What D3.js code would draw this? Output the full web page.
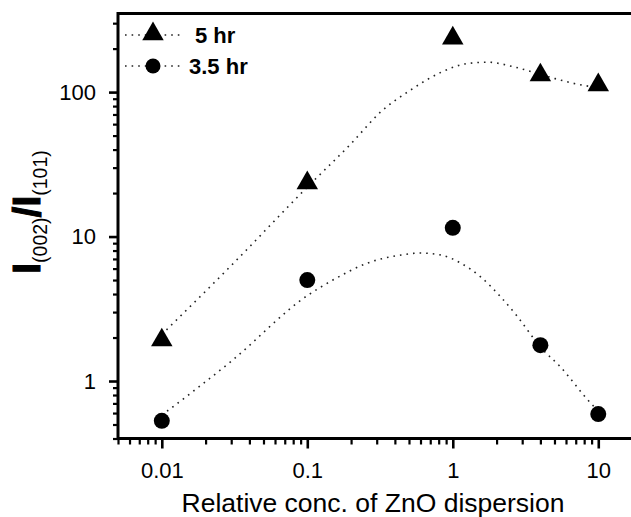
<!DOCTYPE html>
<html>
<head>
<meta charset="utf-8">
<script src="https://cdn.jsdelivr.net/npm/d3@7"></script>
<style>
  body { margin: 0; background: #fff; }
  text { font-family: "Liberation Sans", Arial, sans-serif; }
</style>
</head>
<body>
<script>
// chart size
var w = 631, h = 517;

// measured points
var conc = [0.01, 0.1, 1, 4, 10];
var ratio5 = [1.92, 23.5, 236, 131, 112];
var ratio35 = [0.53, 5.0, 11.5, 1.77, 0.59];

// dotted fit curves
var fit5X = [0.01, 0.03, 0.1, 0.2, 0.32, 0.51, 0.83, 1.27, 1.74, 2.6, 3.6, 4.9, 8.5, 10];
var fit5Y = [2.1, 6.3, 22, 44, 73, 103, 137, 158, 161, 150, 137, 125, 110, 108];
var fit35X = [0.01, 0.03, 0.1, 0.15, 0.26, 0.44, 0.6, 0.83, 1.13, 1.56, 2.14, 2.8, 4.0, 5.5, 8.9, 10];
var fit35Y = [0.58, 1.37, 3.9, 5.0, 6.56, 7.45, 7.69, 7.45, 6.56, 5.24, 3.81, 2.77, 1.72, 1.25, 0.70, 0.62];

var xMajor = [0.01, 0.1, 1, 10];
var xLabels = ["0.01", "0.1", "1", "10"];
var yMajor = [1, 10, 100];
var yLabels = ["1", "10", "100"];

var svg = d3.select("body").append("svg")
    .attr("width", w)
    .attr("height", h);

var x = d3.scaleLog().domain([0.005, 17]).range([118, 631.8]);
var y = d3.scaleLog().domain([0.4, 350]).range([438.5, 13.5]);

// minor ticks
var xMinor = x.ticks().filter(function(d){ return xMajor.indexOf(d) < 0; });
var yMinor = y.ticks().filter(function(d){ return yMajor.indexOf(d) < 0; });

var gx = svg.append("g").attr("transform", "translate(0," + y.range()[0] + ")");
gx.append("g").call(d3.axisBottom(x).tickValues(xMinor).tickSize(6).tickFormat(""))
    .call(function(g){ g.select(".domain").remove(); })
    .selectAll("line").attr("stroke-width", 2.2);
gx.append("g").call(d3.axisBottom(x).tickValues(xMajor).tickSize(10).tickPadding(14)
        .tickFormat(function(d, i){ return xLabels[i]; }))
    .call(function(g){ g.select(".domain").remove(); })
    .call(function(g){
        g.selectAll("line").attr("stroke-width", 2.6);
        g.selectAll("text").attr("font-size", 22).attr("fill", "#000")
            .attr("font-family", "Liberation Sans, Arial, sans-serif");
    });

var gy = svg.append("g").attr("transform", "translate(" + x.range()[0] + ",0)");
gy.append("g").call(d3.axisLeft(y).tickValues(yMinor).tickSize(5).tickFormat(""))
    .call(function(g){ g.select(".domain").remove(); })
    .selectAll("line").attr("stroke-width", 2.2);
gy.append("g").call(d3.axisLeft(y).tickValues(yMajor).tickSize(9).tickPadding(13)
        .tickFormat(function(d, i){ return yLabels[i]; }))
    .call(function(g){ g.select(".domain").remove(); })
    .call(function(g){
        g.selectAll("line").attr("stroke-width", 2.6);
        g.selectAll("text").attr("font-size", 22).attr("fill", "#000")
            .attr("font-family", "Liberation Sans, Arial, sans-serif");
    });

// frame: left, bottom, top
svg.append("path")
    .attr("d", "M" + w + "," + y.range()[1] + "H" + x.range()[0] + "V" + y.range()[0] + "H" + w)
    .attr("fill", "none")
    .attr("stroke", "#000")
    .attr("stroke-width", 3);

// fit curves
var line = d3.line()
    .x(function(d){ return x(d[0]); })
    .y(function(d){ return y(d[1]); })
    .curve(d3.curveMonotoneX);

function drawFit(xs, ys) {
    svg.append("path")
        .datum(d3.zip(xs, ys))
        .attr("d", line)
        .attr("fill", "none")
        .attr("stroke", "#222")
        .attr("stroke-width", 1.6)
        .attr("stroke-dasharray", "1.6,5");
}
drawFit(fit5X, fit5Y);
drawFit(fit35X, fit35Y);

var tri = d3.symbol().type(d3.symbolTriangle).size(200);

svg.selectAll(".tri")
    .data(d3.zip(conc, ratio5))
    .enter()
    .append("path")
    .attr("class", "tri")
    .attr("d", tri)
    .attr("transform", function(d){ return "translate(" + x(d[0]) + "," + y(d[1]) + ")"; })
    .attr("fill", "#000");

svg.selectAll(".dot")
    .data(d3.zip(conc, ratio35))
    .enter()
    .append("circle")
    .attr("class", "dot")
    .attr("cx", function(d){ return x(d[0]); })
    .attr("cy", function(d){ return y(d[1]); })
    .attr("r", 8)
    .attr("fill", "#000");

// legend
var legend = svg.append("g");
[[35, "5 hr", 195], [66, "3.5 hr", 189]].forEach(function(r, i){
    legend.append("line")
        .attr("x1", 125).attr("x2", 183)
        .attr("y1", r[0]).attr("y2", r[0])
        .attr("stroke", "#222")
        .attr("stroke-width", 1.6)
        .attr("stroke-dasharray", "1.6,5");
    if (i === 0) {
        legend.append("path").attr("d", tri)
            .attr("transform", "translate(153," + (r[0] - 1) + ")");
    } else {
        legend.append("circle").attr("cx", 153).attr("cy", r[0]).attr("r", 7.5);
    }
    legend.append("text")
        .attr("x", r[2]).attr("y", r[0] + 8)
        .attr("font-size", 22)
        .attr("font-weight", "bold")
        .text(r[1]);
});

// axis titles
svg.append("text")
    .attr("x", 373).attr("y", 512)
    .attr("text-anchor", "middle")
    .attr("font-size", 26.5)
    .text("Relative conc. of ZnO dispersion");

var yt = svg.append("text")
    .attr("transform", "translate(40,212) rotate(-90)")
    .attr("text-anchor", "middle")
    .attr("font-weight", "bold");
yt.append("tspan").attr("font-size", 39).attr("stroke", "#000").attr("stroke-width", 1).text("I");
yt.append("tspan").attr("font-size", 19.5).attr("font-weight", "normal").attr("dy", 7).text("(002)");
yt.append("tspan").attr("font-size", 39).attr("stroke", "#000").attr("stroke-width", 1).attr("dy", -7).text("/I");
yt.append("tspan").attr("font-size", 19.5).attr("font-weight", "normal").attr("dy", 7).text("(101)");
</script>
</body>
</html>
